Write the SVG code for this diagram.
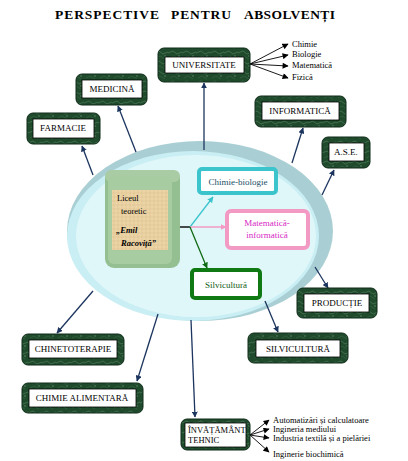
<svg xmlns="http://www.w3.org/2000/svg" width="408" height="461" viewBox="0 0 408 461">
<style>
  text { font-family: "Liberation Serif", "Times New Roman", serif; }
  .t { font-size: 9px; fill: #000; text-anchor: middle; }
  .s { font-size: 8.5px; fill: #000; }
  .ti { font-size: 13.5px; font-weight: bold; fill: #000; }
  .mar { fill: url(#marble); stroke: #0f2a18; stroke-width: 1; }
  .inn { fill: #fff; stroke: #000; stroke-width: 0.8; }
  .c { stroke: #1c355e; stroke-width: 1.3; fill: none; marker-end: url(#ah); }
  .k { stroke: #000; stroke-width: 0.9; fill: none; marker-end: url(#ahk); }
</style>
<defs>
  <marker id="ah" viewBox="0 0 10 10" refX="9" refY="5" markerWidth="6" markerHeight="6" orient="auto" markerUnits="userSpaceOnUse">
    <path d="M0,0 L10,5 L0,10 z" fill="#1c355e"/>
  </marker>
  <marker id="ahk" viewBox="0 0 10 10" refX="9" refY="5" markerWidth="7" markerHeight="6" orient="auto" markerUnits="userSpaceOnUse">
    <path d="M0,0 L10,5 L0,10 z" fill="#000"/>
  </marker>
  <marker id="ahc" viewBox="0 0 10 10" refX="9" refY="5" markerWidth="6" markerHeight="6" orient="auto" markerUnits="userSpaceOnUse">
    <path d="M0,0 L10,5 L0,10 z" fill="#3cc4cc"/>
  </marker>
  <marker id="ahp" viewBox="0 0 10 10" refX="9" refY="5" markerWidth="6" markerHeight="6" orient="auto" markerUnits="userSpaceOnUse">
    <path d="M0,0 L10,5 L0,10 z" fill="#f39ac4"/>
  </marker>
  <marker id="ahg" viewBox="0 0 10 10" refX="9" refY="5" markerWidth="6" markerHeight="6" orient="auto" markerUnits="userSpaceOnUse">
    <path d="M0,0 L10,5 L0,10 z" fill="#0f6a14"/>
  </marker>
  <pattern id="marble" width="14" height="10" patternUnits="userSpaceOnUse">
    <rect width="14" height="10" fill="#1f4a2c"/>
    <path d="M0,3 L5,1 L9,4 L14,2" stroke="#4f7a5a" stroke-width="0.7" fill="none"/>
    <path d="M2,8 L6,6 L11,9" stroke="#3a6847" stroke-width="0.6" fill="none"/>
    <circle cx="11" cy="6" r="0.7" fill="#6c9276"/>
  </pattern>
  <pattern id="paper" width="4" height="4" patternUnits="userSpaceOnUse">
    <rect width="4" height="4" fill="#ecd4a6"/>
    <path d="M0,1 L4,1 M2,0 L2,4" stroke="#d8bb86" stroke-width="0.4"/>
  </pattern>
</defs>

<rect width="408" height="461" fill="#fff"/>

<g id="title">
  <text class="ti" x="55" y="19" textLength="104" lengthAdjust="spacing">PERSPECTIVE</text>
  <text class="ti" x="171" y="19" textLength="60" lengthAdjust="spacing">PENTRU</text>
  <text class="ti" x="244" y="19" textLength="91" lengthAdjust="spacing">ABSOLVENȚI</text>
</g>

<!-- central ellipse -->
<g id="ellipse">
  <ellipse cx="200" cy="231" rx="133" ry="90" fill="#a9cfd4"/>
  <ellipse cx="193" cy="236" rx="126" ry="85" fill="#c9eef3"/>
  <ellipse cx="196" cy="236" rx="120" ry="81" fill="#e0f7fa"/>
</g>

<g id="connectors">
  <line class="c" x1="204" y1="150" x2="204" y2="83"/>
  <line class="c" x1="136" y1="152" x2="118" y2="106"/>
  <line class="c" x1="93" y1="175" x2="82" y2="146"/>
  <line class="c" x1="292" y1="163" x2="303" y2="128"/>
  <line class="c" x1="322" y1="195" x2="334" y2="170"/>
  <line class="c" x1="315" y1="267" x2="328" y2="288"/>
  <line class="c" x1="265" y1="301" x2="278" y2="332"/>
  <line class="c" x1="93" y1="291" x2="57" y2="333"/>
  <line class="c" x1="158" y1="314" x2="137" y2="381"/>
  <line class="c" x1="191" y1="320" x2="195" y2="417"/>
  <!-- universitate sub-arrows -->
  <line class="k" x1="250" y1="64" x2="288" y2="44"/>
  <line class="k" x1="250" y1="64" x2="288" y2="55"/>
  <line class="k" x1="250" y1="64" x2="288" y2="66"/>
  <line class="k" x1="250" y1="64" x2="288" y2="78"/>
  <!-- invatamant tehnic sub-arrows -->
  <line class="k" x1="250" y1="435" x2="269" y2="420"/>
  <line class="k" x1="250" y1="435" x2="269" y2="429"/>
  <line class="k" x1="250" y1="435" x2="269" y2="438"/>
  <line class="k" x1="250" y1="435" x2="269" y2="452"/>
  <!-- liceu branches -->
  <line x1="160" y1="227" x2="190" y2="227" stroke="#111" stroke-width="1.5"/>
  <line x1="190" y1="227" x2="213" y2="197" stroke="#3cc4cc" stroke-width="1.3" marker-end="url(#ahc)"/>
  <line x1="190" y1="227" x2="226" y2="227" stroke="#f39ac4" stroke-width="1.3" marker-end="url(#ahp)"/>
  <line x1="190" y1="227" x2="207" y2="268" stroke="#0f6a14" stroke-width="1.3" marker-end="url(#ahg)"/>
</g>

<g id="liceu">
  <rect x="105" y="170" width="75" height="98" rx="9" fill="#94bf91"/>
  <rect x="105" y="170" width="75" height="12" rx="6" fill="#a9cca4"/>
  <rect x="108" y="176" width="64" height="88" rx="6" fill="#a8cca1"/>
  <rect x="112" y="190" width="56" height="60" fill="url(#paper)"/>
  <text class="s" x="117" y="201" font-size="9.5">Liceul</text>
  <text class="s" x="121" y="214" font-size="9.5">teoretic</text>
  <text class="s" x="116" y="233" font-size="9.5" font-style="italic" font-weight="bold">„Emil</text>
  <text class="s" x="121" y="246" font-size="9.5" font-style="italic" font-weight="bold">Racoviță”</text>
</g>

<g id="chimie-biologie">
  <rect x="199" y="169" width="77" height="24" rx="3" fill="#fff" stroke="#3cc4cc" stroke-width="4"/>
  <text class="t" x="238" y="185" style="fill:#1a4f66">Chimie-biologie</text>
</g>
<g id="matematica-informatica">
  <rect x="227" y="211" width="81" height="37" rx="4" fill="#fff" stroke="#f39ac4" stroke-width="4"/>
  <text class="t" x="267" y="226" style="fill:#d61fc4">Matematică-</text>
  <text class="t" x="267" y="238" style="fill:#d61fc4">informatică</text>
</g>
<g id="silvicultura-profil">
  <rect x="192" y="270" width="68" height="28" rx="3" fill="#fff" stroke="#0f7a14" stroke-width="4"/>
  <text class="t" x="226" y="288" style="fill:#0f5a14">Silvicultură</text>
</g>

<g id="universitate">
  <rect class="mar" x="158" y="48" width="92" height="34" rx="6"/>
  <rect class="inn" x="165" y="57" width="79" height="16"/>
  <text class="t" x="204" y="68">UNIVERSITATE</text>
  <text class="s" x="292" y="47">Chimie</text>
  <text class="s" x="292" y="57">Biologie</text>
  <text class="s" x="292" y="68">Matematică</text>
  <text class="s" x="292" y="80">Fizică</text>
</g>
<g id="medicina">
  <rect class="mar" x="76" y="74" width="71" height="31" rx="6"/>
  <rect class="inn" x="82" y="80" width="60" height="18"/>
  <text class="t" x="112" y="92">MEDICINĂ</text>
</g>
<g id="farmacie">
  <rect class="mar" x="27" y="113" width="73" height="31" rx="6"/>
  <rect class="inn" x="33" y="119" width="61" height="19"/>
  <text class="t" x="63" y="131">FARMACIE</text>
</g>
<g id="informatica">
  <rect class="mar" x="255" y="96" width="91" height="31" rx="6"/>
  <rect class="inn" x="262" y="102" width="77" height="18"/>
  <text class="t" x="300" y="114">INFORMATICĂ</text>
</g>
<g id="ase">
  <rect class="mar" x="322" y="137" width="48" height="31" rx="6"/>
  <rect class="inn" x="329" y="143" width="35" height="18"/>
  <text class="t" x="346" y="155">A.S.E.</text>
</g>
<g id="productie">
  <rect class="mar" x="297" y="288" width="80" height="30" rx="6"/>
  <rect class="inn" x="304" y="294" width="65" height="18"/>
  <text class="t" x="337" y="306">PRODUCȚIE</text>
</g>
<g id="silvicultura">
  <rect class="mar" x="248" y="333" width="100" height="30" rx="6"/>
  <rect class="inn" x="256" y="340" width="84" height="17"/>
  <text class="t" x="298" y="352">SILVICULTURĂ</text>
</g>
<g id="chinetoterapie">
  <rect class="mar" x="22" y="334" width="102" height="31" rx="6"/>
  <rect class="inn" x="29" y="340" width="88" height="18"/>
  <text class="t" x="73" y="352">CHINETOTERAPIE</text>
</g>
<g id="chimie-alimentara">
  <rect class="mar" x="22" y="383" width="121" height="30" rx="6"/>
  <rect class="inn" x="29" y="389" width="107" height="18"/>
  <text class="t" x="82" y="401">CHIMIE ALIMENTARĂ</text>
</g>
<g id="invatamant-tehnic">
  <rect class="mar" x="181" y="419" width="69" height="31" rx="6"/>
  <rect class="inn" x="185" y="423" width="61" height="24"/>
  <text class="s" x="188" y="433" font-size="8.5">ÎNVĂȚĂMÂNT</text>
  <text class="s" x="188" y="443" font-size="8.5">TEHNIC</text>
  <text class="s" x="273" y="423">Automatizări și calculatoare</text>
  <text class="s" x="273" y="432">Ingineria mediului</text>
  <text class="s" x="273" y="441">Industria textilă și a pielăriei</text>
  <text class="s" x="273" y="457">Inginerie biochimică</text>
</g>
</svg>
